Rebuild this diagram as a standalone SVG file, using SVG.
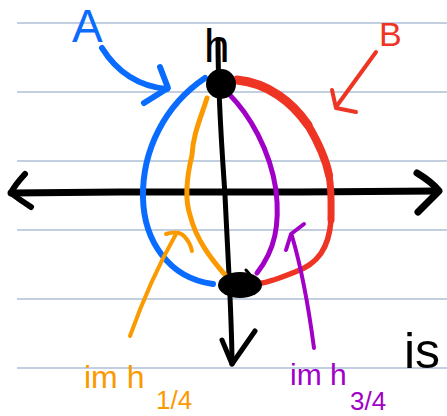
<svg xmlns="http://www.w3.org/2000/svg" width="447" height="416" viewBox="0 0 447 416">
<style>
.rule{stroke:#aebfd6;stroke-width:1.5;fill:none}
.ink{fill:none;stroke-linecap:round;stroke-linejoin:round}
.k{stroke:#000}
.bl{stroke:#0a6cff}
.rd{stroke:#ee3524}
.or{stroke:#fb9a00}
.pu{stroke:#a100c6}
.t{font-family:"Liberation Sans",Arial,sans-serif}
</style>
<rect width="447" height="416" fill="#fff"/>
<g id="rules">
<line class="rule" x1="17" y1="23" x2="447" y2="23"/>
<line class="rule" x1="17" y1="92" x2="447" y2="92"/>
<line class="rule" x1="17" y1="161" x2="447" y2="161"/>
<line class="rule" x1="17" y1="230" x2="447" y2="230"/>
<line class="rule" x1="17" y1="299" x2="447" y2="299"/>
<line class="rule" x1="17" y1="368" x2="447" y2="368"/>
</g>
<g id="axes">
<path class="ink k" stroke-width="7" d="M11,193 L120,192 L300,192 L438,191"/>
<path class="ink k" stroke-width="6" d="M25,174 Q14,186 11,193 Q20,200 31,207"/>
<path class="ink k" stroke-width="7" d="M417,173 Q432,182 439,191 Q428,202 418,212"/>
<path class="ink k" stroke-width="5" d="M218,40 C218,100 222,150 225,195 C228,260 232,320 232,364"/>
<path class="ink k" stroke-width="5" d="M222,340 L232,364 L255,331"/>
</g>
<g id="curveA">
<path class="ink bl" stroke-width="6" d="M205,78 C165,105 142,150 143,198 C144,240 168,278 213,284"/>
</g>
<g id="curveB">
<path class="ink rd" stroke-width="9" d="M237,80 C268,83 292,102 308,125"/>
<path class="ink rd" stroke-width="8" d="M308,125 C318,142 326,160 329,175"/>
<path class="ink rd" stroke-width="7" d="M329,175 C332,192 331,205 331,220"/>
<path class="ink rd" stroke-width="5.5" d="M331,220 C329,248 318,264 295,272 C280,278 270,282 262,283"/>
</g>
<g id="curveQuarter">
<path class="ink or" stroke-width="5" d="M207,98 C200,120 193,135 192,155 C186,180 185,200 190,215 C196,240 212,260 226,276"/>
</g>
<g id="curveThreeQuarter">
<path class="ink pu" stroke-width="5" d="M228,93 C250,115 270,150 276,190 C280,225 275,250 257,273"/>
</g>
<g id="points">
<circle cx="221" cy="84" r="15" fill="#000"/>
<ellipse cx="240" cy="285" rx="22" ry="13" fill="#000"/>
<path class="ink k" stroke-width="3" d="M246,270 L252,277"/>
</g>
<g id="labelA">
<text class="t" x="72" y="42" font-size="46" fill="#0a6cff">A</text>
<path class="ink bl" stroke-width="6" d="M102,48 Q125,85 167,89"/>
<path class="ink bl" stroke-width="6" d="M160,67 L168,88 L144,103"/>
</g>
<g id="labelB">
<text class="t" x="379" y="46" font-size="34" fill="#ee3524">B</text>
<path class="ink rd" stroke-width="4" d="M376,52 L336,107"/>
<path class="ink rd" stroke-width="4" d="M332,90 L336,108 L356,112"/>
</g>
<g id="labelH">
<text class="t" x="204" y="62" font-size="46" fill="#000">h</text>
</g>
<g id="labelQuarter">
<path class="ink or" stroke-width="4" d="M130,336 Q150,280 176,234"/>
<path class="ink or" stroke-width="4" d="M166,234 Q178,230 184,236 Q190,242 192,251"/>
<text class="t" x="84" y="388" font-size="32" fill="#fb9a00">im h</text>
<text class="t" x="156" y="409" font-size="26" fill="#fb9a00">1/4</text>
</g>
<g id="labelThreeQuarter">
<path class="ink pu" stroke-width="4" d="M314,348 Q305,280 292,236"/>
<path class="ink pu" stroke-width="4" d="M286,250 L291,234 L304,224"/>
<text class="t" x="290" y="385" font-size="30" fill="#a100c6">im h</text>
<text class="t" x="350" y="410" font-size="26" fill="#a100c6">3/4</text>
</g>
<g id="labelIs">
<text class="t" x="404" y="368" font-size="50" fill="#000">is</text>
</g>
</svg>
